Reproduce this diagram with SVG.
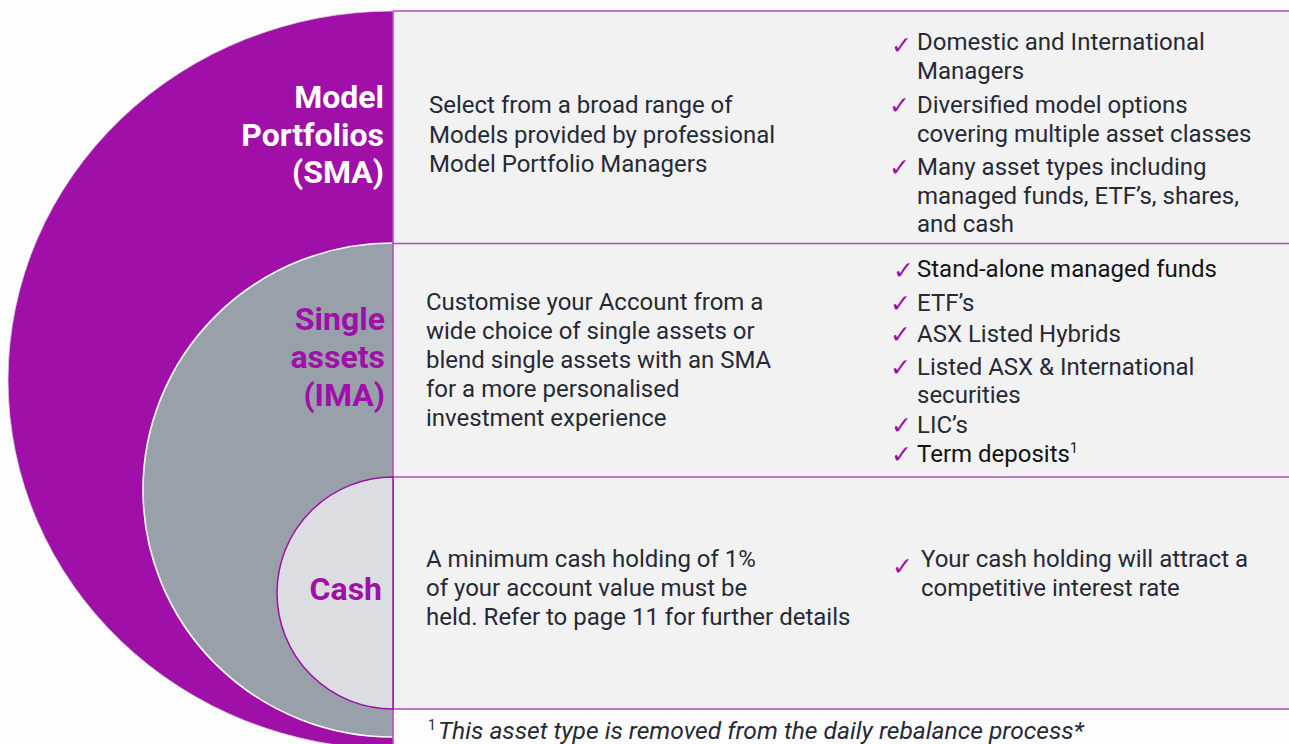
<svg xmlns="http://www.w3.org/2000/svg" width="1289" height="744" viewBox="0 0 1289 744">
<defs>
<clipPath id="leftClip"><rect x="0" y="0" width="393" height="744"/></clipPath>
<style>
.title{font-family:Roboto,"Liberation Sans",sans-serif;font-weight:700;font-size:32px;text-anchor:end}
.body{font-family:Roboto,"Liberation Sans",sans-serif;font-size:24px;fill:#262a36}
.chk{font-family:"DejaVu Sans",sans-serif;font-size:25px;fill:#a00fa8}
.cell{fill:#f2f2f2}
.grid{stroke:#b04cc0;stroke-width:1.6;fill:none}
.foot{font-family:Roboto,"Liberation Sans",sans-serif;font-style:italic;font-size:24.6px;fill:#262a36}
</style>
</defs>
<rect x="0" y="0" width="1289" height="744" fill="#fdfdfd"/>
<g id="rings" clip-path="url(#leftClip)">
<ellipse id="ring-sma" cx="393" cy="380" rx="385" ry="369" fill="#a00fa8" stroke="#d8d8d8" stroke-width="0.8"/>
<ellipse id="ring-ima" cx="393" cy="490" rx="250" ry="247" fill="#98a1aa" stroke="#ffffff" stroke-width="1.6"/>
</g>
<g id="table">
<rect class="cell" x="393" y="11" width="900" height="698"/>
<line class="grid" x1="393" y1="11" x2="1289" y2="11"/>
<line class="grid" x1="393" y1="243.5" x2="1289" y2="243.5"/>
<line class="grid" x1="393" y1="477" x2="1289" y2="477"/>
<line class="grid" x1="393" y1="709" x2="1289" y2="709"/>
<line class="grid" x1="393" y1="11" x2="393" y2="744"/>
</g>
<g id="cash-circle">
<path d="M393,477 A116,116 0 0 0 393,709 Z" fill="#dcdde0" stroke="#a00fa8" stroke-width="1.5"/>
</g>
<g id="node-sma">
<text class="title" fill="#ffffff"><tspan x="384" y="108">Model</tspan><tspan x="384" y="146">Portfolios</tspan><tspan x="384" y="183">(SMA)</tspan></text>
<text class="body"><tspan x="429" y="113">Select from a broad range of</tspan><tspan x="429" y="142.5">Models provided by professional</tspan><tspan x="429" y="172">Model Portfolio Managers</tspan></text>
<text class="chk" x="891" y="54">✓</text>
<text class="chk" x="889" y="114">✓</text>
<text class="chk" x="889" y="176">✓</text>
<text class="body"><tspan x="917" y="50">Domestic and International</tspan><tspan x="917" y="79">Managers</tspan><tspan x="917" y="113">Diversified model options</tspan><tspan x="917" y="142">covering multiple asset classes</tspan><tspan x="917" y="175">Many asset types including</tspan><tspan x="917" y="203.5">managed funds, ETF’s, shares,</tspan><tspan x="917" y="232">and cash</tspan></text>
</g>
<g id="node-ima">
<text class="title" fill="#a00fa8"><tspan x="385" y="330">Single</tspan><tspan x="385" y="368">assets</tspan><tspan x="385" y="406">(IMA)</tspan></text>
<text class="body"><tspan x="426" y="310">Customise your Account from a</tspan><tspan x="426" y="339">wide choice of single assets or</tspan><tspan x="426" y="368">blend single assets with an SMA</tspan><tspan x="426" y="397">for a more personalised</tspan><tspan x="426" y="426">investment experience</tspan></text>
<text class="chk" x="893" y="279">✓</text>
<text class="chk" x="890" y="312">✓</text>
<text class="chk" x="890" y="343">✓</text>
<text class="chk" x="890" y="376">✓</text>
<text class="chk" x="891" y="434">✓</text>
<text class="chk" x="891" y="463">✓</text>
<text class="body"><tspan x="917" y="277" fill="#141414">Stand-alone managed funds</tspan><tspan x="917" y="311">ETF’s</tspan><tspan x="917" y="342">ASX Listed Hybrids</tspan><tspan x="917" y="375">Listed ASX &amp; International</tspan><tspan x="917" y="403">securities</tspan><tspan x="917" y="433">LIC’s</tspan><tspan x="917" y="462" fill="#141414">Term deposits</tspan><tspan dy="-9" font-size="14" fill="#141414">1</tspan></text>
</g>
<g id="node-cash">
<text class="title" fill="#a00fa8" x="382" y="600">Cash</text>
<text class="body"><tspan x="426" y="567">A minimum cash holding of 1%</tspan><tspan x="426" y="596">of your account value must be</tspan><tspan x="426" y="625">held. Refer to page 11 for further details</tspan></text>
<text class="chk" x="892" y="575">✓</text>
<text class="body"><tspan x="921" y="567">Your cash holding will attract a</tspan><tspan x="921" y="596">competitive interest rate</tspan></text>
</g>
<g id="footnote">
<text class="foot" x="428" y="739"><tspan font-style="normal" font-size="14" dy="-9">1</tspan><tspan dy="9" dx="2">This asset type is removed from the daily rebalance process*</tspan></text>
</g>
<g id="connectors"></g>
</svg>
